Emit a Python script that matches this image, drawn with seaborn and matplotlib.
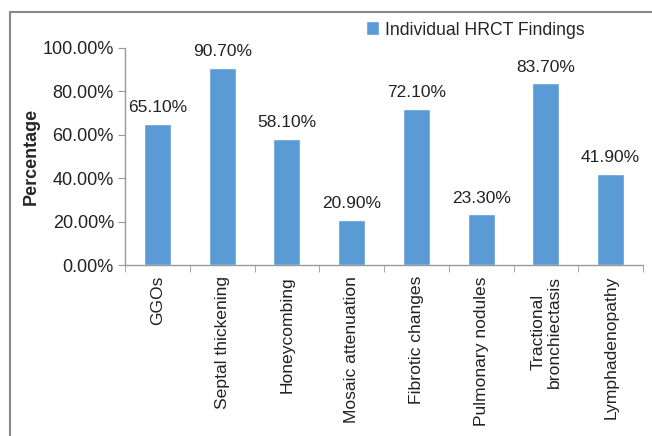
import numpy as np
import pandas as pd
import matplotlib
matplotlib.use("Agg")
import matplotlib.pyplot as plt
import seaborn as sns
from matplotlib.lines import Line2D

# data
findings = ["GGOs", "Septal thickening", "Honeycombing", "Mosaic attenuation",
            "Fibrotic changes", "Pulmonary nodules", "Tractional\nbronchiectasis",
            "Lymphadenopathy"]
percent = [65.1, 90.7, 58.1, 20.9, 72.1, 23.3, 83.7, 41.9]
yticks = [0, 20, 40, 60, 80, 100]
series_name = "Individual HRCT Findings"

df = pd.DataFrame({"finding": findings, "pct": percent})

sns.set_style("white")
plt.rcParams['font.family'] = ['Liberation Sans', 'DejaVu Sans']

fig = plt.figure(figsize=(6.52, 4.36), dpi=100)
ax = fig.add_axes([125/652, 1-265/436, (643-125)/652, (265-48)/436])

sns.barplot(data=df, x="finding", y="pct", color="#5B9BD5", width=0.42,
            saturation=1, ax=ax, label=series_name)

for i, v in enumerate(percent):
    ax.text(i, v + 7.5, f"{v:.2f}%", ha="center", va="center", fontsize=12.5, color="#222222")

ax.set_ylim(0, 100)
ax.set_xlim(-0.5, len(findings) - 0.5)
ax.set_yticks(yticks)
ax.set_yticklabels([f"{t:.2f}%" for t in yticks], fontsize=13, color="#222222")
ax.set_xticks(np.arange(len(findings)))
ax.set_xticklabels(findings, rotation=90, fontsize=12.6, color="#222222", linespacing=1.1)
ax.set_xlabel("")
ax.set_ylabel("Percentage", fontsize=13, fontweight="bold", labelpad=2)

# category ticks sit between bars
ax.set_xticks(np.arange(len(findings) + 1) - 0.5, minor=True)
ax.tick_params(axis="x", which="major", length=0, pad=8)
ax.tick_params(axis="x", which="minor", length=5, color="#999999", direction="out")
ax.tick_params(axis="y", length=5, color="#999999", direction="out", pad=3)
ax.tick_params(left=True, bottom=True)
ax.xaxis.set_tick_params(which="minor", bottom=True)

for s in ["top", "right"]:
    ax.spines[s].set_visible(False)
for s in ["left", "bottom"]:
    ax.spines[s].set_color("#999999")
    ax.spines[s].set_linewidth(1)

leg = ax.legend(loc="center left", bbox_to_anchor=(366/652, 1-30/436),
                bbox_transform=fig.transFigure, frameon=False, borderpad=0,
                borderaxespad=0, fontsize=12.7, handlelength=0.75,
                handleheight=0.85, handletextpad=0.35)

# outer frame (only left and top visible in the reference)
fig.add_artist(Line2D([9.5/652, 9.5/652], [0, 1-12/436], transform=fig.transFigure,
                      color="#888888", lw=1.5))
fig.add_artist(Line2D([9.5/652, 1], [1-12/436, 1-12/436], transform=fig.transFigure,
                      color="#888888", lw=1.5))

plt.savefig("out.png", dpi=100)
